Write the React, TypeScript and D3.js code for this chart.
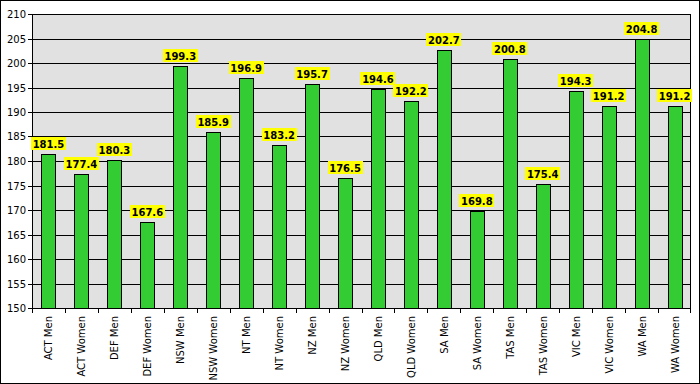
import * as d3 from 'd3';

const categories = [
  'ACT Men', 'ACT Women', 'DEF Men', 'DEF Women', 'NSW Men', 'NSW Women',
  'NT Men', 'NT Women', 'NZ Men', 'NZ Women', 'QLD Men', 'QLD Women',
  'SA Men', 'SA Women', 'TAS Men', 'TAS Women', 'VIC Men', 'VIC Women',
  'WA Men', 'WA Women',
];
const values = [
  181.5, 177.4, 180.3, 167.6, 199.3, 185.9, 196.9, 183.2, 195.7, 176.5,
  194.6, 192.2, 202.7, 169.8, 200.8, 175.4, 194.3, 191.2, 204.8, 191.2,
];
const yTicks = d3.range(150, 211, 5);

const W = 700;
const H = 384;
const plot = { left: 32, top: 14, right: 691, bottom: 308 };
const font = '"DejaVu Sans", Verdana, sans-serif';

export default function App() {
  const x = d3
    .scaleBand<string>()
    .domain(categories)
    .range([plot.left, plot.right]);
  const y = d3.scaleLinear().domain([150, 210]).range([plot.bottom, plot.top]);
  const barW = 14;

  return (
    <div style={{ position: 'fixed', left: 0, top: 0 }}>
      <svg width={W} height={H} style={{ display: 'block' }}>
        <rect x={0} y={0} width={W} height={H} fill="#fff" />
        <rect x={0.5} y={0.5} width={W - 1} height={H - 1} fill="none" stroke="#000" />

        {/* plot area */}
        <rect
          x={plot.left}
          y={plot.top}
          width={plot.right - plot.left}
          height={plot.bottom - plot.top}
          fill="#e1e1e1"
        />
        {yTicks.map((t) => (
          <g key={t}>
            <line
              x1={plot.left - 4}
              x2={plot.right}
              y1={Math.round(y(t)) + 0.5}
              y2={Math.round(y(t)) + 0.5}
              stroke="#000"
            />
            <text
              x={26}
              y={Math.round(y(t)) + 4}
              textAnchor="end"
              fontFamily={font}
              fontSize={10}
              fill="#000"
            >
              {t}
            </text>
          </g>
        ))}
        <rect
          x={plot.left + 0.5}
          y={plot.top + 0.5}
          width={plot.right - plot.left - 1}
          height={plot.bottom - plot.top}
          fill="none"
          stroke="#000"
        />

        {/* x ticks */}
        {categories.map((c) => (
          <line
            key={c}
            x1={Math.round(x(c)!) + 0.5}
            x2={Math.round(x(c)!) + 0.5}
            y1={plot.bottom}
            y2={plot.bottom + 5}
            stroke="#000"
          />
        ))}
        <line
          x1={plot.right - 0.5}
          x2={plot.right - 0.5}
          y1={plot.bottom}
          y2={plot.bottom + 5}
          stroke="#000"
        />

        {/* bars */}
        {categories.map((c, i) => {
          const cx = x(c)! + x.bandwidth() / 2;
          const top = Math.round(y(values[i]));
          return (
            <rect
              key={c}
              x={Math.round(cx - barW / 2) + 0.5}
              y={top + 0.5}
              width={barW}
              height={plot.bottom - top}
              fill="#33cc33"
              stroke="#000"
            />
          );
        })}

        {/* value labels */}
        {categories.map((c, i) => {
          const cx = x(c)! + x.bandwidth() / 2;
          const top = y(values[i]);
          const bw = 35;
          const bh = 13;
          const by = Math.round(top - 4 - bh);
          return (
            <g key={c}>
              <rect
                x={Math.round(cx - bw / 2)}
                y={by}
                width={bw}
                height={bh}
                fill="#ffff00"
              />
              <text
                x={cx}
                y={by + 10.5}
                textAnchor="middle"
                fontFamily={font}
                fontSize={10}
                fontWeight="bold"
                fill="#000"
              >
                {values[i].toFixed(1)}
              </text>
            </g>
          );
        })}

        {/* category labels */}
        {categories.map((c) => {
          const cx = x(c)! + x.bandwidth() / 2;
          return (
            <text
              key={c}
              transform={`translate(${cx + 4},${plot.bottom + 8}) rotate(-90)`}
              textAnchor="end"
              fontFamily={font}
              fontSize={10}
              fill="#000"
            >
              {c}
            </text>
          );
        })}
      </svg>
    </div>
  );
}
